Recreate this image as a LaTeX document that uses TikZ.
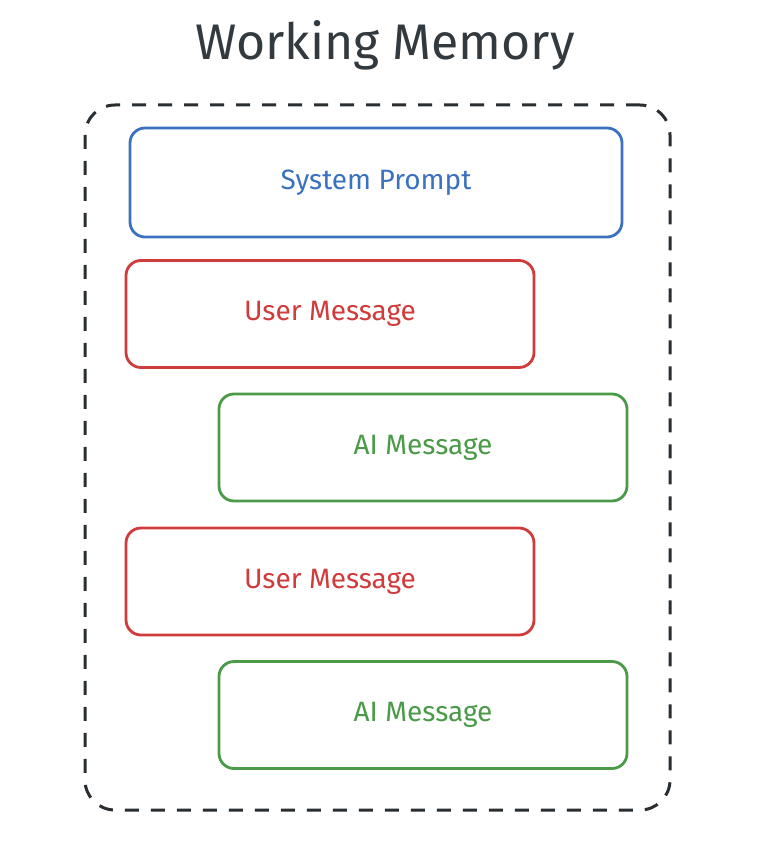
\documentclass[tikz,border=0pt]{standalone}
\usepackage{fontspec}
\setmainfont{Fira Sans}
\usepackage{tikz}
\usetikzlibrary{positioning}
\definecolor{sysblue}{HTML}{3A72C0}
\definecolor{userred}{HTML}{D03B3B}
\definecolor{aigreen}{HTML}{4A9A48}
\definecolor{inkgray}{HTML}{333A3F}
\tikzstyle{msg} = [draw, fill=white, rectangle, rounded corners=15pt, line width=2.8pt, minimum width=408pt, minimum height=107pt, font=\fontsize{28}{32}\selectfont]
\tikzstyle{sysmsg} = [msg, draw=sysblue, text=sysblue, minimum width=492pt, minimum height=109pt]
\tikzstyle{usermsg} = [msg, draw=userred, text=userred]
\tikzstyle{aimsg} = [msg, draw=aigreen, text=aigreen]
\tikzstyle{frame} = [draw=inkgray!80!black, rectangle, rounded corners=30pt, line width=3pt, dash pattern=on 14pt off 12pt, minimum width=585pt, minimum height=705pt]

\begin{document}
\begin{tikzpicture}[x=1pt, y=-1pt]
\useasboundingbox (0,0) rectangle (760,856);
% Nodes
	\node [frame] (memory) at (377.5,457.5) {};
	\node [text=inkgray, font=\fontsize{50}{56}\selectfont] (title) at (385,45) {Working Memory};
	\node [sysmsg] (system) at (376,182.5) {System Prompt};
	\node [usermsg] (user1) at (330,314) {User Message};
	\node [aimsg] (ai1) at (423,447.5) {AI Message};
	\node [usermsg] (user2) at (330,581.5) {User Message};
	\node [aimsg] (ai2) at (423,715) {AI Message};
\end{tikzpicture}
\end{document}
